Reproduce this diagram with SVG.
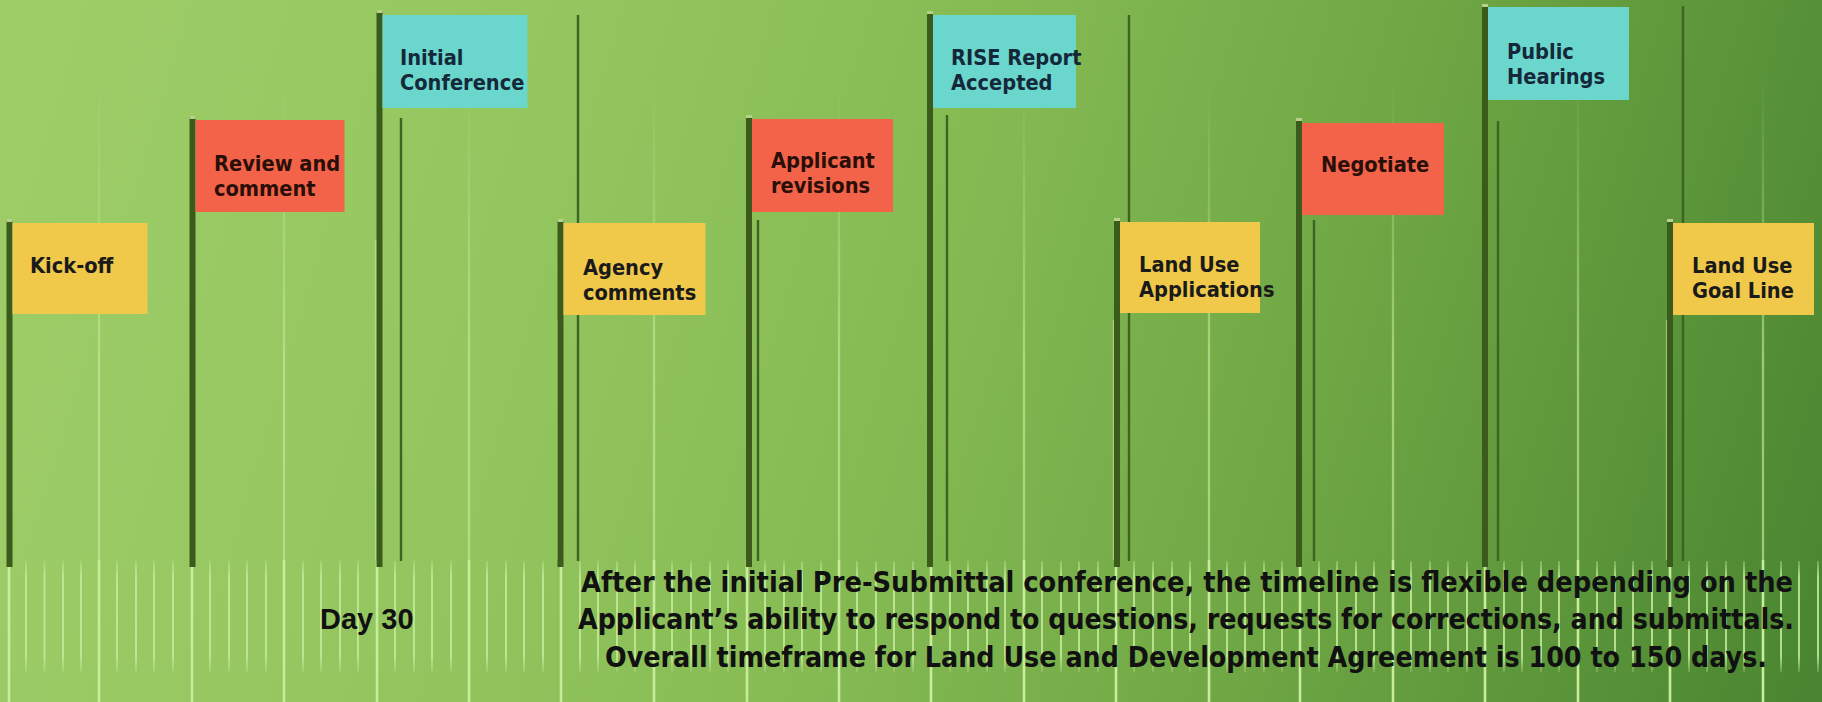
<svg xmlns="http://www.w3.org/2000/svg" width="1822" height="702" viewBox="0 0 1822 702">
  <defs>
    <linearGradient id="bg" gradientUnits="userSpaceOnUse" x1="0" y1="100" x2="1822" y2="640">
      <stop offset="0" stop-color="#9ecd68"/>
      <stop offset="0.3" stop-color="#93c55e"/>
      <stop offset="0.5" stop-color="#85ba53"/>
      <stop offset="0.7" stop-color="#70a845"/>
      <stop offset="0.85" stop-color="#5e973b"/>
      <stop offset="1" stop-color="#4a8631"/>
    </linearGradient>
    <linearGradient id="lineFade" gradientUnits="userSpaceOnUse" x1="0" y1="80" x2="0" y2="360">
      <stop offset="0" stop-color="#c4ea9a" stop-opacity="0"/>
      <stop offset="1" stop-color="#c4ea9a" stop-opacity="0.65"/>
    </linearGradient>
    <linearGradient id="tickFade" gradientUnits="userSpaceOnUse" x1="0" y1="560" x2="0" y2="673">
      <stop offset="0" stop-color="#c4ea9a" stop-opacity="0.3"/>
      <stop offset="0.15" stop-color="#c4ea9a" stop-opacity="0.95"/>
      <stop offset="0.85" stop-color="#c4ea9a" stop-opacity="0.95"/>
      <stop offset="1" stop-color="#c4ea9a" stop-opacity="0.2"/>
    </linearGradient>
    <style>
      .yard { stroke: url(#lineFade); stroke-width: 2.3; fill: none; }
      .half { stroke: #c4ea9a; stroke-opacity: 0.6; stroke-width: 2.3; fill: none; }
      .yardlow { stroke: #c6ec9c; stroke-width: 2.6; fill: none; }
      .tick { stroke: url(#tickFade); stroke-width: 1.8; fill: none; }
      .pole { fill: #3a5b1c; }
      .cap { fill: #b7d288; }
      .thin { stroke: #3e6422; stroke-width: 2.4; fill: none; }
      .yellow { fill: #f0c94b; }
      .red { fill: #f26349; }
      .cyan { fill: #6ad6cc; }
      .ft { font-family: "DejaVu Sans Condensed", "DejaVu Sans", sans-serif; font-stretch: condensed; font-weight: 700; font-size: 21.6px; fill: #1a1a1a; }
      .ftc { fill: #15283a; }
      .ftr { fill: #2a0f08; }
      .para { font-family: "DejaVu Sans Condensed", "DejaVu Sans", sans-serif; font-stretch: condensed; font-weight: 700; font-size: 28px; fill: #111; }
      .day { font-family: "Liberation Sans", Arial, sans-serif; font-weight: 700; font-size: 29px; fill: #111; }
    </style>
  </defs>

  <rect id="background" x="0" y="0" width="1822" height="702" fill="url(#bg)"/>

  <g id="field-lines">
    <g id="yard-lines">
      <line class="yard" x1="99" y1="80" x2="99" y2="560"/>
      <line class="yard" x1="284" y1="80" x2="284" y2="560"/>
      <line class="yard" x1="469" y1="80" x2="469" y2="560"/>
      <line class="yard" x1="654" y1="80" x2="654" y2="560"/>
      <line class="yard" x1="839" y1="80" x2="839" y2="560"/>
      <line class="yard" x1="1024" y1="80" x2="1024" y2="560"/>
      <line class="yard" x1="1209" y1="80" x2="1209" y2="560"/>
      <line class="yard" x1="1393" y1="80" x2="1393" y2="560"/>
      <line class="yard" x1="1578" y1="80" x2="1578" y2="560"/>
      <line class="yard" x1="1763" y1="80" x2="1763" y2="560"/>
      <line class="half" x1="376" y1="240" x2="376" y2="560"/>
      <line class="half" x1="558" y1="320" x2="558" y2="560"/>
      <line class="half" x1="1114" y1="320" x2="1114" y2="560"/>
      <line class="half" x1="1667" y1="320" x2="1667" y2="560"/>
      <line class="yardlow" x1="99" y1="560" x2="99" y2="702"/>
      <line class="yardlow" x1="284" y1="560" x2="284" y2="702"/>
      <line class="yardlow" x1="469" y1="560" x2="469" y2="702"/>
      <line class="yardlow" x1="654" y1="560" x2="654" y2="702"/>
      <line class="yardlow" x1="839" y1="560" x2="839" y2="702"/>
      <line class="yardlow" x1="1024" y1="560" x2="1024" y2="702"/>
      <line class="yardlow" x1="1209" y1="560" x2="1209" y2="702"/>
      <line class="yardlow" x1="1393" y1="560" x2="1393" y2="702"/>
      <line class="yardlow" x1="1578" y1="560" x2="1578" y2="702"/>
      <line class="yardlow" x1="1763" y1="560" x2="1763" y2="702"/>
      <line class="yardlow" x1="9" y1="560" x2="9" y2="702"/>
      <line class="yardlow" x1="192" y1="560" x2="192" y2="702"/>
      <line class="yardlow" x1="377" y1="560" x2="377" y2="702"/>
      <line class="yardlow" x1="561" y1="560" x2="561" y2="702"/>
      <line class="yardlow" x1="747" y1="560" x2="747" y2="702"/>
      <line class="yardlow" x1="931" y1="560" x2="931" y2="702"/>
      <line class="yardlow" x1="1116" y1="560" x2="1116" y2="702"/>
      <line class="yardlow" x1="1300" y1="560" x2="1300" y2="702"/>
      <line class="yardlow" x1="1485" y1="560" x2="1485" y2="702"/>
      <line class="yardlow" x1="1670" y1="560" x2="1670" y2="702"/>
    </g>
    <g id="ticks">
      <path class="tick" d="M26 561V672M44.5 561V672M63 561V672M81 561V672
        M117 561V672M136 561V672M154 561V672M173 561V672
        M210 561V672M229 561V672M247 561V672M266 561V672
        M303 561V672M321 561V672M340 561V672M358 561V672
        M395 561V672M414 561V672M432 561V672M451 561V672
        M487 561V672M506 561V672M524 561V672M543 561V672
        M580 561V672M598 561V672M617 561V672M635 561V672
        M672 561V672M691 561V672M710 561V672M728 561V672
        M765 561V672M784 561V672M802 561V672M821 561V672
        M857 561V672M876 561V672M894 561V672M913 561V672
        M950 561V672M968 561V672M987 561V672M1005 561V672
        M1042 561V672M1061 561V672M1079 561V672M1098 561V672
        M1134 561V672M1153 561V672M1172 561V672M1190 561V672
        M1227 561V672M1245 561V672M1264 561V672M1282 561V672
        M1319 561V672M1337 561V672M1356 561V672M1374 561V672
        M1411 561V672M1430 561V672M1448 561V672M1467 561V672
        M1504 561V672M1522 561V672M1541 561V672M1559 561V672
        M1597 561V672M1615 561V672M1633 561V672M1652 561V672
        M1689 561V672M1707 561V672M1726 561V672M1744 561V672
        M1781 561V672M1799 561V672M1818 561V672"/>
    </g>
  </g>

  <g id="connectors">
    <line class="thin" x1="401" y1="118" x2="401" y2="561"/>
    <line class="thin" x1="578" y1="15" x2="578" y2="561"/>
    <line class="thin" x1="758" y1="220" x2="758" y2="561"/>
    <line class="thin" x1="947" y1="115" x2="947" y2="561"/>
    <line class="thin" x1="1129" y1="15" x2="1129" y2="561"/>
    <line class="thin" x1="1314" y1="220" x2="1314" y2="561"/>
    <line class="thin" x1="1498" y1="121" x2="1498" y2="561"/>
    <line class="thin" x1="1683" y1="6" x2="1683" y2="561"/>
  </g>

  <g id="node-kickoff">
    <rect class="pole" x="6.5" y="220" width="6" height="347"/>
    <rect class="cap" x="6.5" y="219" width="6" height="3"/>
    <rect class="yellow" x="12.5" y="223" width="135" height="91"/>
    <text class="ft" x="30" y="273">Kick-off</text>
  </g>

  <g id="node-review">
    <rect class="pole" x="189.5" y="117" width="6" height="450"/>
    <rect class="cap" x="189.5" y="116" width="6" height="3"/>
    <rect class="red" x="195.5" y="120" width="149" height="92"/>
    <text class="ft ftr" x="214" y="171">Review and</text>
    <text class="ft ftr" x="214" y="196">comment</text>
  </g>

  <g id="node-initial">
    <rect class="pole" x="376.5" y="11" width="6" height="556"/>
    <rect class="cap" x="376.5" y="10" width="6" height="3"/>
    <rect class="cyan" x="382.5" y="15" width="145" height="93"/>
    <text class="ft ftc" x="400" y="65">Initial</text>
    <text class="ft ftc" x="400" y="90">Conference</text>
  </g>

  <g id="node-agency">
    <rect class="pole" x="557.5" y="220" width="6" height="347"/>
    <rect class="cap" x="557.5" y="219" width="6" height="3"/>
    <rect class="yellow" x="563.5" y="223" width="142" height="92"/>
    <text class="ft" x="583" y="275">Agency</text>
    <text class="ft" x="583" y="300">comments</text>
  </g>

  <g id="node-applicant">
    <rect class="pole" x="746" y="116" width="6" height="451"/>
    <rect class="cap" x="746" y="115" width="6" height="3"/>
    <rect class="red" x="752" y="119" width="141" height="93"/>
    <text class="ft ftr" x="771" y="168">Applicant</text>
    <text class="ft ftr" x="771" y="193">revisions</text>
  </g>

  <g id="node-rise">
    <rect class="pole" x="927" y="12" width="6" height="555"/>
    <rect class="cap" x="927" y="11" width="6" height="3"/>
    <rect class="cyan" x="933" y="15" width="143" height="93"/>
    <text class="ft ftc" x="951" y="65">RISE Report</text>
    <text class="ft ftc" x="951" y="90">Accepted</text>
  </g>

  <g id="node-landuse-apps">
    <rect class="pole" x="1114" y="219" width="6" height="348"/>
    <rect class="cap" x="1114" y="218" width="6" height="3"/>
    <rect class="yellow" x="1120" y="222" width="140" height="91"/>
    <text class="ft" x="1139" y="272">Land Use</text>
    <text class="ft" x="1139" y="297">Applications</text>
  </g>

  <g id="node-negotiate">
    <rect class="pole" x="1296" y="119" width="6" height="448"/>
    <rect class="cap" x="1296" y="118" width="6" height="3"/>
    <rect class="red" x="1302" y="123" width="142" height="92"/>
    <text class="ft ftr" x="1321" y="172">Negotiate</text>
  </g>

  <g id="node-public">
    <rect class="pole" x="1482" y="5" width="6" height="562"/>
    <rect class="cap" x="1482" y="4" width="6" height="3"/>
    <rect class="cyan" x="1488" y="7" width="141" height="93"/>
    <text class="ft ftc" x="1507" y="59">Public</text>
    <text class="ft ftc" x="1507" y="84">Hearings</text>
  </g>

  <g id="node-goal">
    <rect class="pole" x="1667" y="220" width="6" height="347"/>
    <rect class="cap" x="1667" y="219" width="6" height="3"/>
    <rect class="yellow" x="1673" y="223" width="141" height="92"/>
    <text class="ft" x="1692" y="273">Land Use</text>
    <text class="ft" x="1692" y="298">Goal Line</text>
  </g>

  <g id="captions">
    <text class="day" x="320" y="629">Day 30</text>
    <text class="para" x="581" y="592" textLength="1212" lengthAdjust="spacingAndGlyphs">After the initial Pre-Submittal conference, the timeline is flexible depending on the</text>
    <text class="para" x="578" y="629" textLength="1216" lengthAdjust="spacingAndGlyphs">Applicant’s ability to respond to questions, requests for corrections, and submittals.</text>
    <text class="para" x="605" y="667" textLength="1162" lengthAdjust="spacingAndGlyphs">Overall timeframe for Land Use and Development Agreement is 100 to 150 days.</text>
  </g>
</svg>
